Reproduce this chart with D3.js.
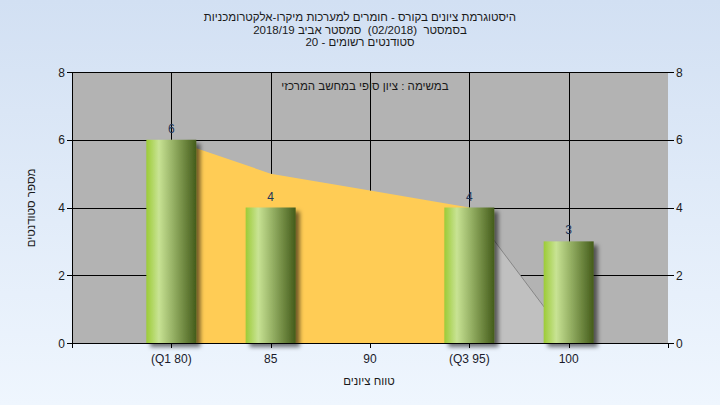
<!DOCTYPE html>
<html><head><meta charset="utf-8">
<script src="https://cdn.jsdelivr.net/npm/d3@7"></script>
<style>
html,body{margin:0;padding:0;}
svg text{font-family:"Liberation Sans","DejaVu Sans",Arial,sans-serif;white-space:pre;}
</style>
</head><body>
<svg id="chart" width="720" height="405"></svg>
<script>
const titleLines = ["היסטוגרמת ציונים בקורס - חומרים למערכות מיקרו-אלקטרומכניות","בסמסטר  (02/2018)  סמסטר אביב 2018/19","סטודנטים רשומים - 20"];
const subtitle = "במשימה : ציון סופי במחשב המרכזי";
const xAxisTitle = "טווח ציונים";
const yAxisTitle = "מספר סטודנטים";
const categories = ["(Q1 80)","85","90","(Q3 95)","100"];
const counts = [6,4,0,4,3];
const middleCurve = [6,5,4.5,4];   // shaded area between Q1 and Q3
const tailCurve = [4,0.1];         // shaded area above Q3
const yTicks = [0,2,4,6,8];

(function(){
const svg = d3.select("#chart");
const defs = svg.append("defs");
const bg = defs.append("linearGradient").attr("id","bg").attr("x1",0).attr("y1",0).attr("x2",0).attr("y2",1);
bg.append("stop").attr("offset",0).attr("stop-color","#D2E0F3");
bg.append("stop").attr("offset",1).attr("stop-color","#EFF6FE");
const bar = defs.append("linearGradient").attr("id","bar").attr("x1",0).attr("y1",0).attr("x2",1).attr("y2",0);
[[0,"#9CCB36"],[0.25,"#C8E394"],[0.55,"#93AE62"],[1,"#445C1A"]].forEach(s=>bar.append("stop").attr("offset",s[0]).attr("stop-color",s[1]));
const sh = defs.append("filter").attr("id","shadow").attr("x","-20%").attr("y","-20%").attr("width","160%").attr("height","140%");
sh.append("feDropShadow").attr("dx",4).attr("dy",4).attr("stdDeviation",2.2).attr("flood-color","#000").attr("flood-opacity",0.55);

svg.append("rect").attr("width",720).attr("height",405).attr("fill","url(#bg)");

const pL=72,pR=668,pT=72,pB=343;
const x = d3.scaleLinear().domain([0,categories.length+1]).range([pL,pR]);
const y = d3.scaleLinear().domain([0,8]).range([pB,pT]);

svg.append("rect").attr("x",pL).attr("y",pT).attr("width",pR-pL).attr("height",pB-pT).attr("fill","#B3B3B3");

// gridlines
svg.append("g").selectAll("line").data(yTicks.filter(d=>d>0)).join("line")
  .attr("x1",pL).attr("x2",pR).attr("y1",d=>Math.round(y(d))+0.5).attr("y2",d=>Math.round(y(d))+0.5)
  .attr("stroke","#000").attr("stroke-width",1);
svg.append("g").selectAll("line").data(categories).join("line")
  .attr("x1",(d,i)=>Math.round(x(i+1))+0.5).attr("x2",(d,i)=>Math.round(x(i+1))+0.5)
  .attr("y1",pT).attr("y2",pB).attr("stroke","#000").attr("stroke-width",1);

// areas
const area = d3.area().x(d=>x(d[0])).y0(y(0)).y1(d=>y(d[1]));
svg.append("path").datum(middleCurve.map((v,i)=>[i+1,v])).attr("d",area).attr("fill","#FFCC55");
svg.append("path").datum(tailCurve.map((v,i)=>[i+4,v])).attr("d",area).attr("fill","#C0C0C0");
svg.append("path").datum(tailCurve.map((v,i)=>[i+4,v]))
  .attr("d",d3.line().x(d=>x(d[0])).y(d=>y(d[1]))).attr("fill","none").attr("stroke","#7A7A7A").attr("stroke-width",0.8);

// bars
const bw = 50;
svg.append("g").selectAll("rect").data(counts.map((v,i)=>({v,i})).filter(d=>d.v>0)).join("rect")
  .attr("x",d=>x(d.i+1)-bw/2).attr("width",bw)
  .attr("y",d=>y(d.v)).attr("height",d=>y(0)-y(d.v))
  .attr("fill","url(#bar)").attr("filter","url(#shadow)");
svg.append("g").selectAll("text").data(counts.map((v,i)=>({v,i})).filter(d=>d.v>0)).join("text")
  .attr("x",d=>x(d.i+1)).attr("y",d=>y(d.v)-7).attr("text-anchor","middle")
  .attr("font-size",12).attr("fill","#1E3558").text(d=>d.v);

// axes lines
svg.append("line").attr("x1",pL+0.5).attr("x2",pL+0.5).attr("y1",pT).attr("y2",pB+5).attr("stroke","#000");
svg.append("line").attr("x1",pL).attr("x2",pR).attr("y1",pB+0.5).attr("y2",pB+0.5).attr("stroke","#000");
// ticks
const yL = svg.append("g");
yTicks.forEach(t=>{
  const yy = Math.round(y(t))+0.5;
  yL.append("line").attr("x1",pL-5).attr("x2",pL).attr("y1",yy).attr("y2",yy).attr("stroke","#000");
  yL.append("line").attr("x1",pR).attr("x2",pR+6).attr("y1",yy).attr("y2",yy).attr("stroke","#000");
  yL.append("text").attr("x",pL-7).attr("y",y(t)+4.5).attr("text-anchor","end").attr("font-size",12).attr("fill","#1a1a1a").text(t);
  yL.append("text").attr("x",pR+8).attr("y",y(t)+4.5).attr("text-anchor","start").attr("font-size",12).attr("fill","#1a1a1a").text(t);
});
d3.range(0,categories.length+2).forEach(i=>{
  svg.append("line").attr("x1",Math.round(x(i))+0.5).attr("x2",Math.round(x(i))+0.5).attr("y1",pB).attr("y2",pB+5).attr("stroke","#000");
});
svg.append("g").selectAll("text").data(categories).join("text")
  .attr("x",(d,i)=>x(i+1)).attr("y",pB+20).attr("text-anchor","middle")
  .attr("font-size",12).attr("fill","#1a1a2a").attr("direction","ltr").text(d=>d);

// titles
svg.append("g").selectAll("text").data(titleLines).join("text")
  .attr("x",360).attr("y",(d,i)=>21+i*12.5).attr("text-anchor","middle")
  .attr("direction","rtl").attr("font-size",11.5).attr("fill","#1a1a1a").text(d=>d);
svg.append("text").attr("x",365).attr("y",90).attr("text-anchor","middle").attr("direction","rtl")
  .attr("font-size",11.5).attr("fill","#1a1a1a").text(subtitle);
svg.append("text").attr("x",369).attr("y",385).attr("text-anchor","middle").attr("direction","rtl")
  .attr("font-size",11.5).attr("fill","#1a1a1a").text(xAxisTitle);
svg.append("text").attr("transform","translate(35,208) rotate(-90)").attr("text-anchor","middle").attr("direction","rtl")
  .attr("font-size",11.5).attr("fill","#1a1a1a").text(yAxisTitle);
})();
</script>
</body></html>
